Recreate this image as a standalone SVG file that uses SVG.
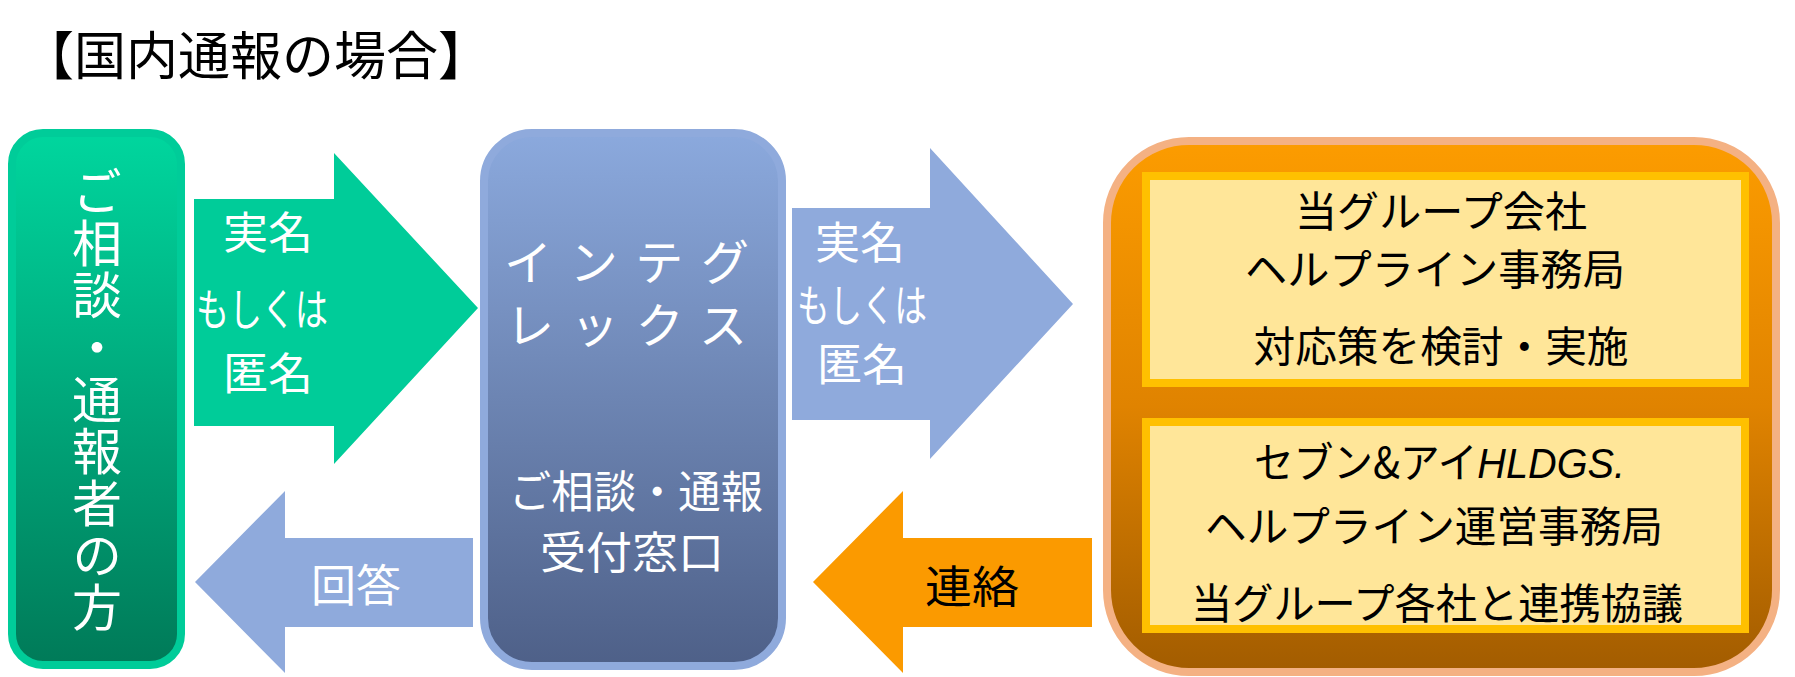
<svg xmlns="http://www.w3.org/2000/svg" width="1795" height="677" viewBox="0 0 1795 677">
<defs>
<linearGradient id="gGreen" x1="0" y1="0" x2="0" y2="1">
<stop offset="0" stop-color="#00D69E"/><stop offset="1" stop-color="#007A58"/>
</linearGradient>
<linearGradient id="gBlue" x1="0" y1="0" x2="0" y2="1">
<stop offset="0" stop-color="#8BA9DD"/><stop offset="1" stop-color="#4E6088"/>
</linearGradient>
<linearGradient id="gOrange" x1="0" y1="0" x2="0" y2="1">
<stop offset="0" stop-color="#FC9C00"/><stop offset="0.5" stop-color="#E08300"/><stop offset="1" stop-color="#A25C00"/>
</linearGradient>
</defs>
<style>
text{font-family:"Noto Sans CJK JP","Noto Sans",sans-serif;}
.title{font-size:52px;fill:#000;}
.w{fill:#fff;}
.b{fill:#000;}
.f44{font-size:44px;}
.f42{font-size:42px;}
.mid{text-anchor:middle;}
.inner{fill:#FFE699;stroke:#FFC000;stroke-width:8;}
.vert{writing-mode:vertical-rl;font-size:50px;letter-spacing:2px;}
.lat{font-family:"Liberation Sans",sans-serif;font-style:italic;}
</style>
<text class="title" x="22" y="75">【国内通報の場合】</text>
<g id="connectors">
<polygon points="194,199 334,199 334,153 478,308 334,464 334,426 194,426" fill="#00CC99"/>
<text class="w f44 mid" x="268" y="249" textLength="90" lengthAdjust="spacingAndGlyphs">実名</text>
<text class="w f44 mid" x="262" y="326" textLength="132" lengthAdjust="spacingAndGlyphs">もしくは</text>
<text class="w f44 mid" x="268" y="390" textLength="90" lengthAdjust="spacingAndGlyphs">匿名</text>
<polygon points="792,208 930,208 930,148 1073,304 930,459 930,420 792,420" fill="#8FAADC"/>
<text class="w f44 mid" x="860" y="259" textLength="90" lengthAdjust="spacingAndGlyphs">実名</text>
<text class="w f44 mid" x="862" y="322" textLength="130" lengthAdjust="spacingAndGlyphs">もしくは</text>
<text class="w f44 mid" x="862" y="381" textLength="90" lengthAdjust="spacingAndGlyphs">匿名</text>
<polygon points="473,538 285,538 285,491 195,582 285,673 285,627 473,627" fill="#8FAADC"/>
<text class="w f44 mid" x="356" y="602" textLength="90" lengthAdjust="spacingAndGlyphs">回答</text>
<polygon points="1092,538 903,538 903,491 813,582 903,673 903,627 1092,627" fill="#FB9A00"/>
<text class="b f44 mid" x="972" y="603" textLength="94" lengthAdjust="spacingAndGlyphs">連絡</text>
</g>
<g id="reporter">
<rect x="12" y="133" width="169" height="532" rx="31" fill="url(#gGreen)" stroke="#00CC99" stroke-width="8"/>
<text class="w vert" x="97" y="166">ご相談・通報者の方</text>
</g>
<g id="integrex">
<rect x="484" y="133" width="298" height="533" rx="48" fill="url(#gBlue)" stroke="#8FAADC" stroke-width="8"/>
<text class="w" style="font-size:48px" x="504" y="280" textLength="245" lengthAdjust="spacing">インテグ</text>
<text class="w" style="font-size:48px" x="506" y="343" textLength="241" lengthAdjust="spacing">レックス</text>
<text class="w f44 mid" x="636" y="508" textLength="254" lengthAdjust="spacingAndGlyphs">ご相談・通報</text>
<text class="w f44 mid" x="632" y="569" textLength="184" lengthAdjust="spacingAndGlyphs">受付窓口</text>
</g>
<g id="helpline">
<rect x="1107" y="141" width="669" height="531" rx="82" fill="url(#gOrange)" stroke="#F4B183" stroke-width="8"/>
<g id="group-company">
<rect class="inner" x="1146" y="176" width="599" height="207"/>
<text class="b f42 mid" x="1441" y="227" textLength="292" lengthAdjust="spacingAndGlyphs">当グループ会社</text>
<text class="b f42 mid" x="1435" y="285" textLength="380" lengthAdjust="spacingAndGlyphs">ヘルプライン事務局</text>
<text class="b f42 mid" x="1441" y="362" textLength="375" lengthAdjust="spacingAndGlyphs">対応策を検討・実施</text>
</g>
<g id="hldgs">
<rect class="inner" x="1146" y="422" width="599" height="207"/>
<text class="b f42" x="1254" y="478" textLength="371" lengthAdjust="spacingAndGlyphs">セブン&amp;アイ<tspan class="lat">HLDGS.</tspan></text>
<text class="b f42 mid" x="1434" y="542" textLength="458" lengthAdjust="spacingAndGlyphs">ヘルプライン運営事務局</text>
<text class="b f42 mid" x="1437" y="619" textLength="492" lengthAdjust="spacingAndGlyphs">当グループ各社と連携協議</text>
</g>
</g>
</svg>
